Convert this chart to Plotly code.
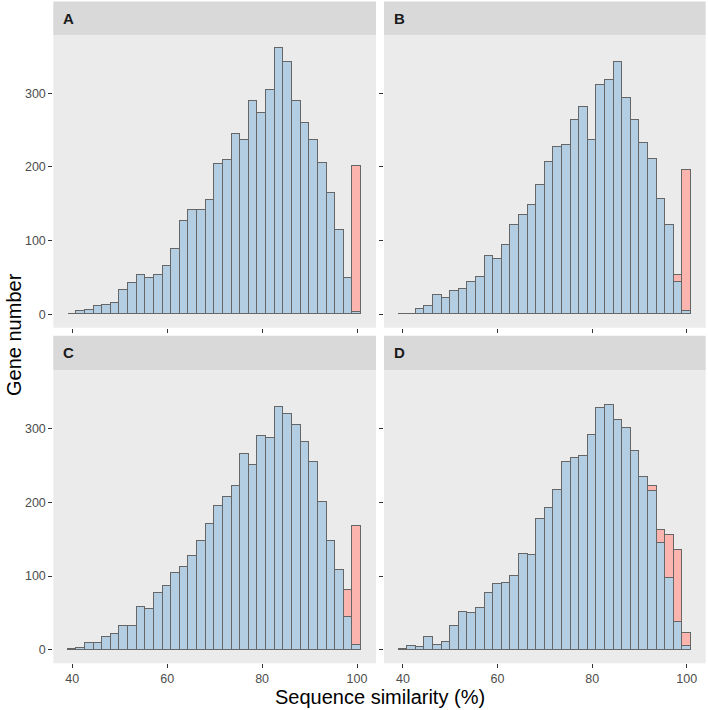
import numpy as np
import plotly.graph_objects as go

# Histogram bins (ggplot bins=34 over 40..100)
bin_min = 40
bin_max = 100
n_bins = 34

panel_labels = ["A", "B", "C", "D"]

# counts, blue = lower part, pink = upper part of each stacked bin
blue_a = [1, 5, 6, 11, 13, 16, 33, 43, 54, 49, 54, 66, 89, 127, 141, 141, 155,
          204, 210, 245, 236, 290, 273, 305, 361, 343, 290, 260, 236, 205, 165, 114, 50, 3]
pink_a = [0] * 33 + [199]

blue_b = [1, 1, 7, 11, 26, 22, 32, 34, 44, 51, 79, 75, 94, 121, 135, 148, 176,
          207, 227, 230, 264, 282, 236, 311, 318, 343, 293, 264, 232, 211, 157, 121, 44, 4]
pink_b = [0] * 32 + [9, 192]

blue_c = [1, 2, 9, 10, 17, 21, 32, 32, 58, 56, 77, 86, 104, 113, 127, 147, 171,
          195, 207, 222, 266, 250, 290, 287, 329, 320, 304, 282, 255, 201, 147, 108, 44, 7]
pink_c = [0] * 32 + [37, 161]

blue_d = [1, 5, 4, 18, 7, 11, 33, 51, 50, 57, 77, 89, 90, 100, 130, 128, 177,
          192, 216, 255, 260, 263, 291, 328, 331, 312, 300, 269, 234, 215, 145, 98, 38, 6]
pink_d = [0] * 29 + [7, 18, 57, 98, 17]

x_ticks = [40, 60, 80, 100]
y_ticks = [0, 100, 200, 300]

blue_series = [blue_a, blue_b, blue_c, blue_d]
pink_series = [pink_a, pink_b, pink_c, pink_d]

centers = np.linspace(bin_min, bin_max, n_bins)
bin_width = (bin_max - bin_min) / (n_bins - 1)

W, H = 708, 710
# panel pixel boxes (left, right, top, bottom) and strip tops
col_px = [(53.3, 376.0), (384.0, 705.7)]
row_px = [(35.0, 327.7, 1.5), (370.0, 663.3, 335.7)]

fill_blue = "#B3CDE3"
fill_pink = "#FBB4AE"
outline = "#666666"

fig = go.Figure()
shapes = []
annotations = []

max_total = max(max(b + p for b, p in zip(bs, ps)) for bs, ps in zip(blue_series, pink_series))
y_range = [-0.05 * max_total, 1.05 * max_total]
x_span = (bin_max + bin_width / 2) - (bin_min - bin_width / 2)
x_range = [bin_min - bin_width / 2 - 0.05 * x_span, bin_max + bin_width / 2 + 0.05 * x_span]

for i in range(4):
    r, c = divmod(i, 2)
    ax = "" if i == 0 else str(i + 1)
    xl, xr = col_px[c]
    yt, yb, st = row_px[r]

    fig.add_trace(go.Bar(
        x=centers, y=blue_series[i], width=bin_width,
        marker=dict(color=fill_blue, line=dict(color=outline, width=1.1)),
        xaxis="x" + ax, yaxis="y" + ax, showlegend=False,
    ))
    fig.add_trace(go.Bar(
        x=centers, y=[v if v > 0 else None for v in pink_series[i]], width=bin_width,
        marker=dict(color=fill_pink, line=dict(color=outline, width=1.1)),
        xaxis="x" + ax, yaxis="y" + ax, showlegend=False,
    ))

    fig.layout["xaxis" + ax] = dict(
        domain=[xl / W, xr / W], anchor="y" + ax, range=x_range,
        tickvals=x_ticks, showticklabels=(r == 1), ticks="outside", ticklen=4,
        tickcolor="#333333", tickfont=dict(size=12.5, color="#4D4D4D"),
        showgrid=False, zeroline=False, showline=False,
    )
    fig.layout["yaxis" + ax] = dict(
        domain=[1 - yb / H, 1 - yt / H], anchor="x" + ax, range=y_range,
        tickvals=y_ticks, showticklabels=(c == 0), ticks="outside", ticklen=4,
        tickcolor="#333333", tickfont=dict(size=12.5, color="#4D4D4D"),
        showgrid=False, zeroline=False, showline=False,
    )

    # strip
    shapes.append(dict(type="rect", xref="paper", yref="paper",
                       x0=xl / W, x1=xr / W, y0=1 - yt / H, y1=1 - st / H,
                       fillcolor="#D9D9D9", line=dict(width=0), layer="below"))
    annotations.append(dict(text="<b>" + panel_labels[i] + "</b>", xref="paper", yref="paper",
                            x=(xl + 8) / W, y=1 - (st + yt) / 2 / H, xanchor="left", yanchor="middle",
                            showarrow=False, font=dict(size=15, color="#1A1A1A")))

annotations.append(dict(text="Sequence similarity (%)", xref="paper", yref="paper",
                        x=(col_px[0][0] + col_px[1][1]) / 2 / W, y=1 - 697 / H,
                        xanchor="center", yanchor="middle", showarrow=False,
                        font=dict(size=20, color="black")))
annotations.append(dict(text="Gene number", xref="paper", yref="paper",
                        x=14 / W, y=1 - 335 / H, textangle=-90,
                        xanchor="center", yanchor="middle", showarrow=False,
                        font=dict(size=20, color="black")))

fig.update_layout(
    width=W, height=H,
    margin=dict(l=0, r=0, t=0, b=0),
    barmode="stack", bargap=0,
    paper_bgcolor="white", plot_bgcolor="#EBEBEB",
    font=dict(family="Liberation Sans, Arial, sans-serif"),
    shapes=shapes, annotations=annotations,
)

# drop the default page margin so the figure sits at the window's top-left
fig.write_html("out.html", config={"displayModeBar": False},
               post_script="document.body.style.margin='0';")
